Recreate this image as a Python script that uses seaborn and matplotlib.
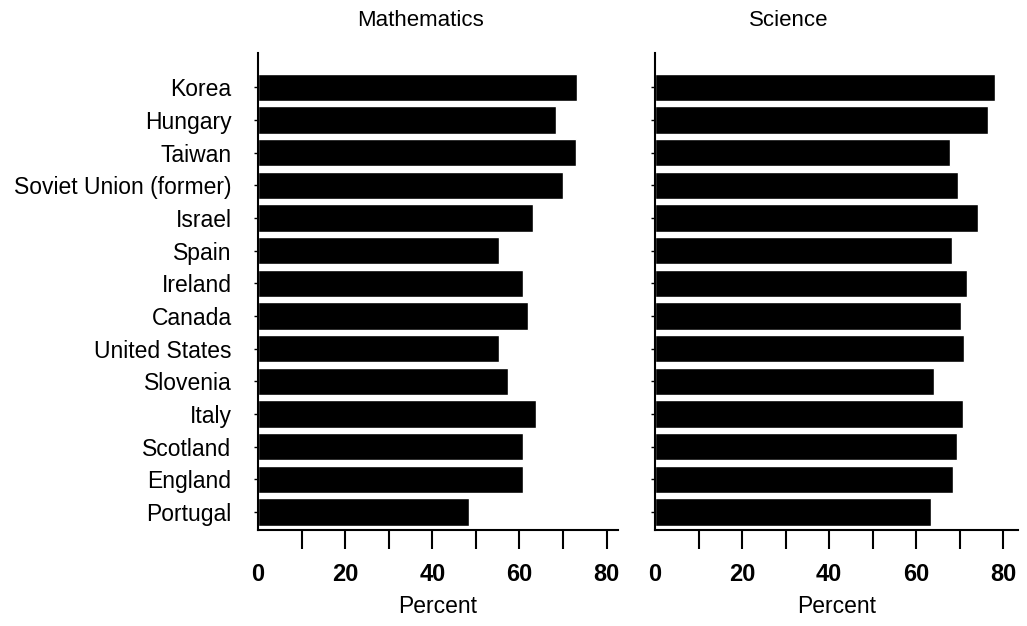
import numpy as np
import pandas as pd
import matplotlib
matplotlib.use('Agg')
import matplotlib.pyplot as plt
import seaborn as sns

# values (percent)
countries = ['Korea', 'Hungary', 'Taiwan', 'Soviet Union (former)', 'Israel', 'Spain',
             'Ireland', 'Canada', 'United States', 'Slovenia', 'Italy', 'Scotland',
             'England', 'Portugal']
math_pct = [73.1, 68.3, 72.9, 70.0, 63.0, 55.3, 60.7, 62.0, 55.3, 57.3, 63.9, 60.7, 60.7, 48.4]
science_pct = [78.2, 76.4, 67.8, 69.5, 74.3, 68.3, 71.7, 70.3, 71.0, 64.0, 70.7, 69.4, 68.4, 63.4]
x_ticks = list(range(0, 81, 10))
x_ticklabels = [str(v) if v % 20 == 0 else '' for v in x_ticks]

sns.set_theme(style='ticks')
plt.rcParams['font.family'] = ['Liberation Sans', 'DejaVu Sans']
plt.rcParams['axes.edgecolor'] = 'black'
plt.rcParams['xtick.color'] = 'black'
plt.rcParams['ytick.color'] = 'black'
plt.rcParams['text.color'] = 'black'
plt.rcParams['axes.labelcolor'] = 'black'

df = pd.DataFrame({'country': countries, 'Mathematics': math_pct, 'Science': science_pct})

fig = plt.figure(figsize=(10.27, 6.26), dpi=100)
ax_m = fig.add_axes([0.2512, 0.1534, 0.3505, 0.7619])
ax_s = fig.add_axes([0.6378, 0.1534, 0.3535, 0.7619])

# titles sit left of the axes centre in the original
panels = [(ax_m, 'Mathematics', 82.6, 0.409), (ax_s, 'Science', 83.4, 0.768)]
for ax, subject, xmax, title_x in panels:
    sns.barplot(data=df, x=subject, y='country', ax=ax, color='black',
                saturation=1, width=0.84, orient='h')
    ax.set_xlim(0, xmax)
    ax.set_ylim(13.55, -1.05)
    ax.set_xticks(x_ticks)
    ax.set_xticklabels(x_ticklabels, fontsize=17, fontweight='bold')
    ax.tick_params(axis='x', length=14, width=1.5, pad=10)
    ax.tick_params(axis='y', length=3, width=1, pad=16, labelsize=16.5)
    ax.xaxis.get_major_ticks()[0].tick1line.set_visible(False)
    ax.set_xlabel('Percent', fontsize=16.5, labelpad=6)
    ax.set_ylabel('')
    fig.text(title_x, 0.968, subject, ha='center', va='center', fontsize=16)
    sns.despine(ax=ax)
    for side in ['left', 'bottom']:
        ax.spines[side].set_linewidth(1.5)

ax_s.set_yticklabels([])

fig.savefig('out.png', dpi=100)
plt.close(fig)
